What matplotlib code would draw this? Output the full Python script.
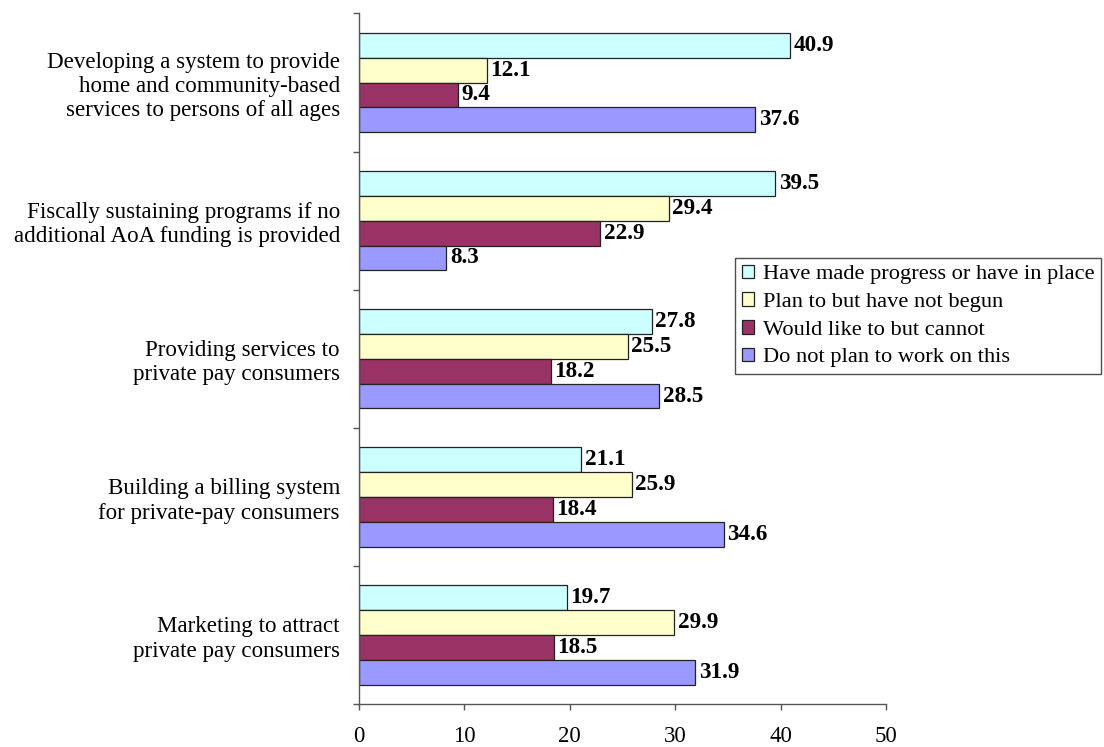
import matplotlib
matplotlib.use("Agg")
import matplotlib.pyplot as plt
import numpy as np

plt.rcParams['font.family'] = ['Liberation Serif', 'DejaVu Serif']

categories = [
    "Developing a system to provide\nhome and community-based\nservices to persons of all ages",
    "Fiscally sustaining programs if no\nadditional AoA funding is provided",
    "Providing services to\nprivate pay consumers",
    "Building a billing system\nfor private-pay consumers",
    "Marketing to attract\nprivate pay consumers",
]
series_names = [
    "Have made progress or have in place",
    "Plan to but have not begun",
    "Would like to but cannot",
    "Do not plan to work on this",
]
progress = [40.9, 39.5, 27.8, 21.1, 19.7]
plan = [12.1, 29.4, 25.5, 25.9, 29.9]
would_like = [9.4, 22.9, 18.2, 18.4, 18.5]
no_plan = [37.6, 8.3, 28.5, 34.6, 31.9]
x_ticks = [0, 10, 20, 30, 40, 50]

series = [progress, plan, would_like, no_plan]
colors = ["#CCFFFF", "#FFFFCC", "#993366", "#9999FF"]

fig = plt.figure(figsize=(11.04, 7.47), dpi=100)
ax = fig.add_axes([359 / 1104, 1 - 704 / 747, (886 - 359) / 1104, (704 - 13.5) / 747])

n = len(categories)
y = np.arange(n)
h = 0.18
handles = []
for i, (vals, col) in enumerate(zip(series, colors)):
    pos = y - 1.5 * h + i * h
    bars = ax.barh(pos, vals, height=h, color=col, edgecolor="#222222", linewidth=0.9,
                   label=series_names[i])
    handles.append(bars)
    for p, v in zip(pos, vals):
        ax.annotate(f"{v:.1f}", (v, p), xytext=(2.5, 0), textcoords="offset points",
                    ha="left", va="center", fontsize=16.7, fontweight="bold", color="black")

ax.set_xlim(0, 50)
ax.set_ylim(n - 0.5, -0.5)
ax.set_xticks(x_ticks)
ax.set_xticklabels([str(t) for t in x_ticks], fontsize=16.5)
ax.set_yticks(y)
ax.set_yticklabels(categories, fontsize=16.6, ha="right", linespacing=1.2)
ax.set_yticks(np.arange(-0.5, n, 1.0), minor=True)

ax.tick_params(axis="y", which="major", length=0, pad=13.7)
ax.tick_params(axis="y", which="minor", length=4, width=1, color="#555555", direction="out")
ax.tick_params(axis="x", length=4, width=1, color="#555555", direction="out", pad=11.5)

for s in ["top", "right"]:
    ax.spines[s].set_visible(False)
for s in ["left", "bottom"]:
    ax.spines[s].set_color("#555555")
    ax.spines[s].set_linewidth(1)

leg = fig.legend(handles=handles, labels=series_names, loc="upper left",
                 bbox_to_anchor=(735 / 1104, 1 - 258 / 747), borderaxespad=0,
                 fontsize=16.1, frameon=True, fancybox=False, borderpad=0.3,
                 handlelength=0.55, handleheight=0.55, handletextpad=0.4,
                 labelspacing=0.36)
leg.get_frame().set_edgecolor("#222222")
leg.get_frame().set_linewidth(1)

fig.savefig("out.png", dpi=100)
